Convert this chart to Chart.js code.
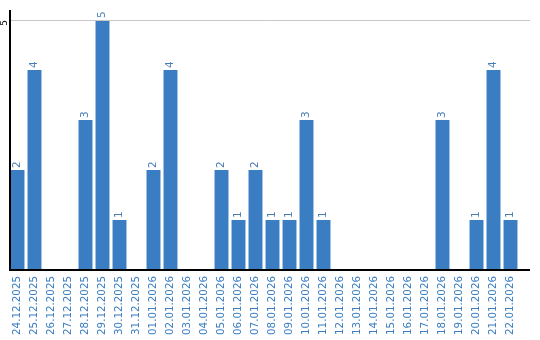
<!DOCTYPE html>
<html><head><meta charset="utf-8">
<script src="https://cdn.jsdelivr.net/npm/chart.js@4/dist/chart.umd.min.js"></script>
<style>html,body{margin:0;padding:0;background:#fff}#wrap{width:540px;height:340px}</style>
</head><body><div id="wrap"><canvas id="c" width="540" height="340"></canvas></div>
<script>
const categories = ["24.12.2025","25.12.2025","26.12.2025","27.12.2025","28.12.2025","29.12.2025","30.12.2025","31.12.2025","01.01.2026","02.01.2026","03.01.2026","04.01.2026","05.01.2026","06.01.2026","07.01.2026","08.01.2026","09.01.2026","10.01.2026","11.01.2026","12.01.2026","13.01.2026","14.01.2026","15.01.2026","16.01.2026","17.01.2026","18.01.2026","19.01.2026","20.01.2026","21.01.2026","22.01.2026"];
const counts = [2,4,0,0,3,5,1,0,2,4,0,0,2,1,2,1,1,3,1,0,0,0,0,0,0,3,0,1,4,1];
const yTicks = [5];

const BLUE = '#3a7dc2';
const FONT = 'DejaVu Sans';

const extras = {
  id: 'extras',
  afterDatasetsDraw(chart) {
    const ctx = chart.ctx;
    const meta = chart.getDatasetMeta(0);
    ctx.save();
    ctx.fillStyle = '#4a7db8';
    ctx.font = '10.5px "' + FONT + '"';
    ctx.textAlign = 'left';
    ctx.textBaseline = 'middle';
    meta.data.forEach((bar, i) => {
      const v = counts[i];
      if (!v) return;
      ctx.save();
      ctx.translate(bar.x, bar.y - 2);
      ctx.rotate(-Math.PI / 2);
      ctx.fillText(String(v), 0, 0);
      ctx.restore();
    });
    ctx.restore();
  },
  afterDraw(chart) {
    const ctx = chart.ctx;
    const a = chart.chartArea;
    const y = chart.scales.y;
    ctx.save();
    ctx.strokeStyle = '#c8c8c8';
    ctx.lineWidth = 1;
    yTicks.forEach(t => {
      const py = Math.round(y.getPixelForValue(t)) + 0.5;
      ctx.beginPath(); ctx.moveTo(a.left, py); ctx.lineTo(530, py); ctx.stroke();
    });
    ctx.strokeStyle = '#000';
    ctx.lineWidth = 2;
    ctx.beginPath(); ctx.moveTo(a.left, a.bottom); ctx.lineTo(530, a.bottom); ctx.stroke();
    ctx.beginPath(); ctx.moveTo(a.left + 1, a.top); ctx.lineTo(a.left + 1, a.bottom); ctx.stroke();
    ctx.fillStyle = '#000';
    ctx.font = '9px "' + FONT + '"';
    ctx.textAlign = 'center';
    ctx.textBaseline = 'middle';
    yTicks.forEach(t => {
      const py = y.getPixelForValue(t);
      ctx.save();
      ctx.translate(5, py + 3);
      ctx.rotate(-Math.PI / 2);
      ctx.fillText(String(t), 0, 0);
      ctx.restore();
    });
    ctx.restore();
  }
};

new Chart(document.getElementById('c'), {
  type: 'bar',
  data: {
    labels: categories,
    datasets: [{
      data: counts,
      backgroundColor: BLUE,
      barPercentage: 0.82,
      categoryPercentage: 1.0,
      borderWidth: 0
    }]
  },
  options: {
    responsive: false,
    animation: false,
    maintainAspectRatio: false,
    layout: { padding: { left: 9, right: 21, top: 10, bottom: 0 } },
    plugins: { legend: { display: false }, tooltip: { enabled: false } },
    scales: {
      x: {
        offset: true,
        grid: { display: false, drawTicks: false },
        border: { display: false },
        ticks: {
          color: BLUE,
          font: { family: FONT, size: 10.3 },
          minRotation: 90, maxRotation: 90,
          autoSkip: false,
          padding: 6
        },
        afterFit(s) { s.height = 70; }
      },
      y: {
        display: false,
        min: 0, max: 5.2,
        afterBuildTicks(s) { s.ticks = yTicks.map(v => ({ value: v })); }
      }
    }
  },
  plugins: [extras]
});
</script></body></html>
